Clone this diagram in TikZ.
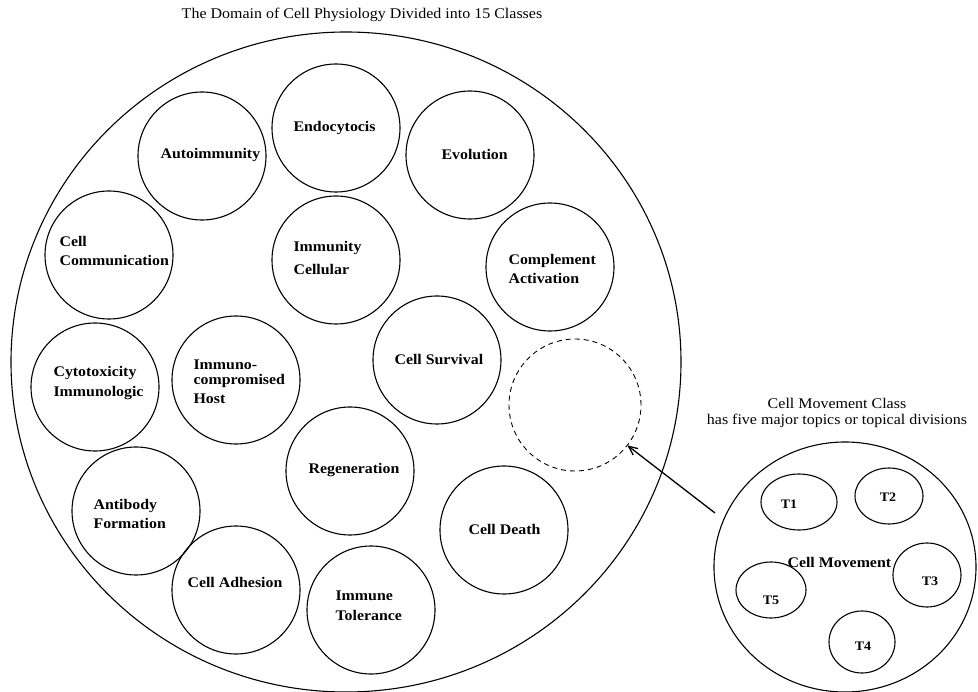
\documentclass[tikz,border=0pt]{standalone}
\usepackage{fontspec}
\setmainfont{Liberation Serif}[FakeStretch=1.08]
\usetikzlibrary{shapes.geometric,arrows.meta}
\begin{document}
\begin{tikzpicture}[x=1pt, y=-1pt, line width=1.1pt,
    >={Straight Barb[length=9pt,width=8pt]},
    dombox/.style={ellipse, draw, inner sep=0pt, outer sep=0pt, minimum width=670pt, minimum height=660pt},
    cls/.style={circle, draw, inner sep=0pt, outer sep=0pt, minimum size=128pt},
    topic/.style 2 args={ellipse, draw, inner sep=0pt, outer sep=0pt, minimum width=#1, minimum height=#2},
    lbl/.style={anchor=west, align=left, inner sep=0pt, font=\bfseries\fontsize{14.7}{19.5}\selectfont},
    tlbl/.style={inner sep=0pt, font=\bfseries\fontsize{13}{15}\selectfont},
    captxt/.style={align=center, inner sep=0pt, font=\fontsize{14.8}{16}\selectfont}]
  \useasboundingbox (0,0) rectangle (978,692);
  % the domain and its 15 classes
  \node[dombox] (D) at (346,362) {};
  \node[cls] (auto) at (202,156) {};
  \node[cls] (endo) at (336,128) {};
  \node[cls] (evol) at (470,155) {};
  \node[cls] (comm) at (109,255) {};
  \node[cls] (immc) at (336,260) {};
  \node[cls] (compl) at (550,267) {};
  \node[cls] (surv) at (437,360) {};
  \node[cls] (cyto) at (95,387) {};
  \node[cls] (immh) at (236,380) {};
  \node[cls] (abf) at (136,511) {};
  \node[cls] (regen) at (350,471) {};
  \node[cls] (death) at (504,530) {};
  \node[cls] (adh) at (236,590) {};
  \node[cls] (tol) at (371,610) {};
  \node[cls, minimum size=132pt, dash pattern=on 5pt off 4pt, line width=0.9pt] (slot) at (575,405) {};
  \node[lbl] (autoT) at (160,155) {Autoimmunity};
  \node[lbl] (endoT) at (293,128) {Endocytocis};
  \node[lbl] (evolT) at (441,154) {Evolution};
  \node[lbl] (commT) at (59,251) {Cell\\Communication};
  \node[lbl] (immcT) at (293,258) {Immunity\\[3.5pt]Cellular};
  \node[lbl] (complT) at (508,269) {Complement\\Activation};
  \node[lbl] (survT) at (394,359) {Cell Survival};
  \node[lbl] (cytoT) at (53,383) {Cytotoxicity\\Immunologic};
  \node[lbl] (immhT) at (193,382) {Immuno-\\[-5pt]compromised\\Host};
  \node[lbl] (abfT) at (93,514) {Antibody\\Formation};
  \node[lbl] (regenT) at (308,470) {Regeneration};
  \node[lbl] (deathT) at (468,529) {Cell Death};
  \node[lbl] (adhT) at (187,582) {Cell Adhesion};
  \node[lbl] (tolT) at (335,606) {Immune\\Tolerance};
  \node[captxt] (title) at (362,15) {The Domain of Cell Physiology Divided into 15 Classes};
  % the cell movement class
  \node[topic={262pt}{250pt}] (move) at (845,567) {};
  \node[topic={76pt}{56pt}] (t1) at (799,502) {};
  \node[topic={68pt}{56pt}] (t2) at (889,496) {};
  \node[topic={68pt}{64pt}] (t3) at (927,575) {};
  \node[topic={66pt}{62pt}] (t4) at (862,642) {};
  \node[topic={70pt}{56pt}] (t5) at (771,590) {};
  \node[tlbl] (t1T) at (789,504) {T1};
  \node[tlbl] (t2T) at (888,497) {T2};
  \node[tlbl] (t3T) at (930,581) {T3};
  \node[tlbl] (t4T) at (863,646) {T4};
  \node[tlbl] (t5T) at (771,600) {T5};
  \node[lbl] (moveT) at (787,562) {Cell Movement};
  \node[captxt] (moveC) at (837,413) {Cell Movement Class\\has five major topics or topical divisions};
  \coordinate (tail) at (715,513);
  \draw[->, line width=1.3pt] (tail) -- (slot);
\end{tikzpicture}
\end{document}
